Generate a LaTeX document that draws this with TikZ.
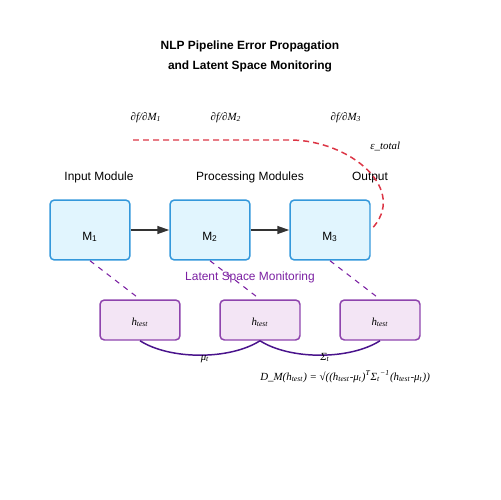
\documentclass[tikz,border=0pt]{standalone}
\usepackage{fontspec}
\setmainfont{Liberation Serif}
\setsansfont{Liberation Sans}
\usetikzlibrary{arrows.meta}
\definecolor{boxblue}{HTML}{3498DB}
\definecolor{boxfill}{HTML}{E1F5FE}
\definecolor{latfill}{HTML}{F3E5F5}
\definecolor{latdraw}{HTML}{8E44AD}
\definecolor{monpurple}{HTML}{7B1FA2}
\definecolor{curvepurple}{HTML}{4A148C}
\definecolor{errred}{HTML}{DC3545}
\definecolor{arrowgray}{HTML}{333333}
\begin{document}
\begin{tikzpicture}[x=0.02cm,y=-0.02cm,
 sanslbl/.style={font=\sffamily\fontsize{6.8pt}{8pt}\selectfont, anchor=base, inner sep=0},
 mathlbl/.style={font=\rmfamily\itshape\fontsize{6.2pt}{7.5pt}\selectfont, anchor=base, inner sep=0},
 titlelbl/.style={font=\sffamily\bfseries\fontsize{6.8pt}{8pt}\selectfont, anchor=base, inner sep=0},
 modbox/.style={draw=boxblue, fill=boxfill, line width=0.85pt, rounded corners=2.5pt, minimum width=1.6cm, minimum height=1.2cm, inner sep=0},
 latbox/.style={draw=latdraw, fill=latfill, line width=0.85pt, rounded corners=2.5pt, minimum width=1.6cm, minimum height=0.8cm, inner sep=0},
 flow/.style={draw=arrowgray, line width=0.85pt, -{Triangle[length=6.8pt,width=4.5pt]}},
 monline/.style={draw=monpurple, line width=0.6pt, dash pattern=on 3pt off 3pt},
 errline/.style={draw=errred, line width=0.85pt, dash pattern=on 3.4pt off 2.3pt},
 statcurve/.style={draw=curvepurple, line width=0.85pt},
]
\useasboundingbox (0,0) rectangle (500,500);
% title
\node[titlelbl] (t1) at (250,50) {NLP Pipeline Error Propagation};
\node[titlelbl] (t2) at (250,70) {and Latent Space Monitoring};
% gradient labels
\node[mathlbl] (g1) at (146,120) {∂f/∂M\textsubscript{1}};
\node[mathlbl] (g2) at (226,120) {∂f/∂M\textsubscript{2}};
\node[mathlbl] (g3) at (346,120) {∂f/∂M\textsubscript{3}};
\node[mathlbl, anchor=base west] (eps) at (370,150) {ε\_total};
% headers
\node[sanslbl] (h1) at (99,180) {Input Module};
\node[sanslbl] (h2) at (250,180) {Processing Modules};
\node[sanslbl] (h3) at (370,180) {Output};
% modules
\node[modbox] (m1) at (90,230) {};
\node[modbox] (m2) at (210,230) {};
\node[modbox] (m3) at (330,230) {};
\node[sanslbl] (m1t) at (90,240) {M\textsubscript{1}};
\node[sanslbl] (m2t) at (210,240) {M\textsubscript{2}};
\node[sanslbl] (m3t) at (330,240) {M\textsubscript{3}};
\draw[flow] (m1.east) -- (m2.west);
\draw[flow] (m2.east) -- (m3.west);
% error propagation
\coordinate (es) at (133,140);
\coordinate (eb) at (290,140);
\draw[errline] (es) -- (eb) .. controls (350,140) and (410,190) .. (m3.east);
% latent
\node[sanslbl, text=monpurple] (lsm) at (250,280) {Latent Space Monitoring};
\node[latbox] (l1) at (140,320) {};
\node[latbox] (l2) at (260,320) {};
\node[latbox] (l3) at (380,320) {};
\node[mathlbl] (l1t) at (140,325) {h\textsubscript{test}};
\node[mathlbl] (l2t) at (260,325) {h\textsubscript{test}};
\node[mathlbl] (l3t) at (380,325) {h\textsubscript{test}};
\draw[monline] (m1.south) -- (l1.north);
\draw[monline] (m2.south) -- (l2.north);
\draw[monline] (m3.south) -- (l3.north);
\draw[statcurve] (l1.south) .. controls (170,360) and (230,360) .. (l2.south);
\draw[statcurve] (l2.south) .. controls (290,360) and (350,360) .. (l3.south);
\node[mathlbl] (mu) at (205,360) {μ\textsubscript{t}};
\node[mathlbl] (sig) at (325,360) {Σ\textsubscript{t}};
\node[mathlbl, anchor=base west] (dm) at (260,380) {D\_M(h\textsubscript{test}) = √((h\textsubscript{test}-μ\textsubscript{t})\textsuperscript{T}Σ\textsubscript{t}\textsuperscript{−1}(h\textsubscript{test}-μ\textsubscript{t}))};
\end{tikzpicture}
\end{document}
